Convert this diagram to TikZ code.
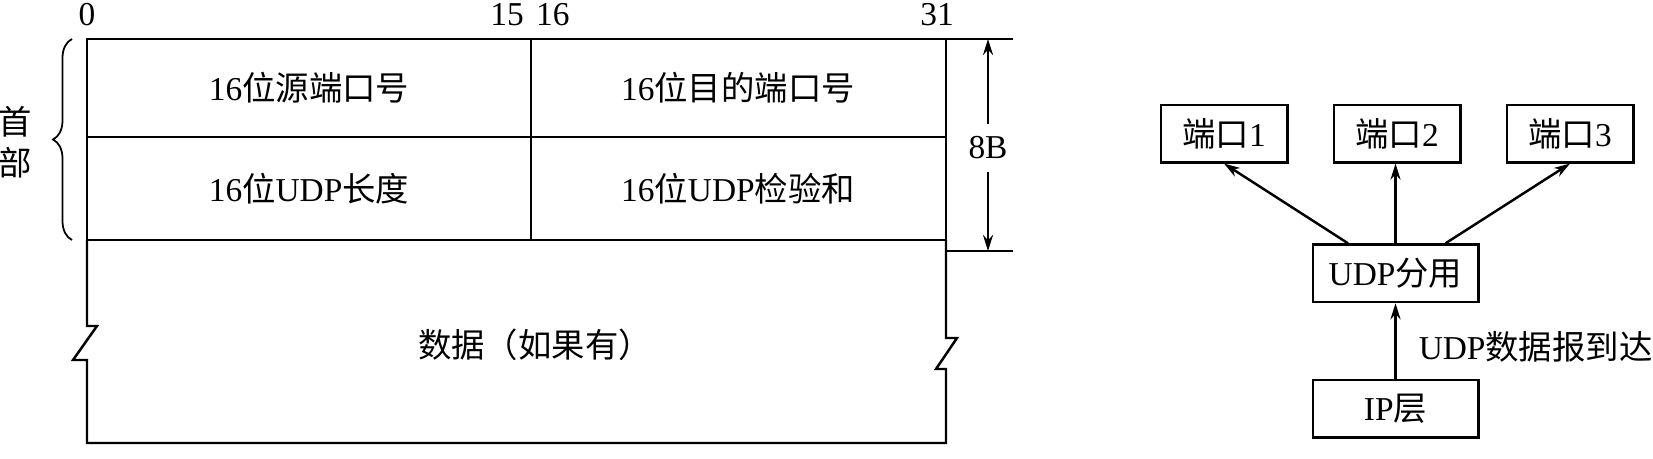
\documentclass[tikz,border=0pt]{standalone}
\usepackage{fontspec}
\setmainfont{Liberation Serif}
\newfontfamily\cjk{Noto Sans CJK SC}
\usetikzlibrary{arrows.meta, decorations.pathreplacing}

\begin{document}
\begin{tikzpicture}[x=0.1mm, y=-0.1mm, line width=0.7pt,
	font=\fontsize{9.5}{11.7}\selectfont,
	pfeil/.style={-{Stealth[length=1.6mm, width=1mm]}},
	kasten/.style={draw, minimum height=5.75mm, inner sep=0pt}]
	\def\xL{87}
	\def\xM{531}
	\def\xR{946}
	\def\yO{39}
	\def\yM{137}
	\def\yU{240}
	\def\yD{443}
	\useasboundingbox (0,0) rectangle (1653,459);
	
	%Kopf
	\draw (\xL,\yO) rectangle (\xR,\yU);
	\draw (\xL,\yM) -- (\xR,\yM);
	\draw (\xM,\yO) -- (\xM,\yU);
	\draw (\xR,\yO) -- (1013,\yO);
	\draw (\xR,251) -- (1013,251);
	\node[inner sep=0] (b0) at (\xL,15) {0};
	\node[inner sep=0, anchor=east] (b15) at (525,15) {15};
	\node[inner sep=0, anchor=west] (b16) at (535,15) {16};
	\node[inner sep=0] (b31) at (937,15) {31};
	\node (quelle) at (309,88) {16{\cjk 位源端口号}};
	\node (ziel) at (738,88) {16{\cjk 位目的端口号}};
	\node (laenge) at (309,189) {16{\cjk 位}UDP{\cjk 长度}};
	\node (pruef) at (738,189) {16{\cjk 位}UDP{\cjk 检验和}};
	
	%Klammer
	\draw[line width=0.5pt, decorate, decoration={brace, amplitude=1.9mm}] (72,\yU) -- (72,\yO);
	\node[align=center, inner sep=0] (kopf) at (15,142) {{\cjk 首}\\{\cjk 部}};
	
	%8B
	\coordinate (oben) at (988,\yO);
	\coordinate (unten) at (988,251);
	\node (achtB) at (988,148) {8B};
	\draw[pfeil] (achtB) -- (oben);
	\draw[pfeil] (achtB) -- (unten);
	
	%Daten
	\draw (\xL,\yU) -- (\xL,326) -- (97,326) -- (73,360) -- (\xL,360) -- (\xL,\yD)
		-- (\xR,\yD) -- (\xR,369) -- (936,369) -- (957,338) -- (\xR,338) -- (\xR,\yU);
	\node (daten) at (535,345) {\cjk 数据（如果有）};
	
	%Rechts
	\foreach \i/\x in {1/1224, 2/1397, 3/1570}{
		\node[kasten, minimum width=12.65mm] (port\i) at (\x,133.6) {{\cjk 端口}\i};
	}
	\node[kasten, minimum width=16.55mm] (udp) at (1395.5,273.3) {UDP{\cjk 分用}};
	\node[kasten, minimum width=16.55mm] (ip) at (1395.5,408.8) {IP{\cjk 层}};
	\draw[pfeil] ([xshift=-4.75mm]udp.north) -- (port1.south);
	\draw[pfeil] (udp.north) -- (udp.north |- port2.south);
	\draw[pfeil] ([xshift=5mm]udp.north) -- (port3.south);
	\draw[pfeil] (ip.north) -- node[pos=0.42, anchor=west, inner sep=0, xshift=2.2mm] (ankunft) {UDP{\cjk 数据报到达}} (udp.south);
	
\end{tikzpicture}
\end{document}
